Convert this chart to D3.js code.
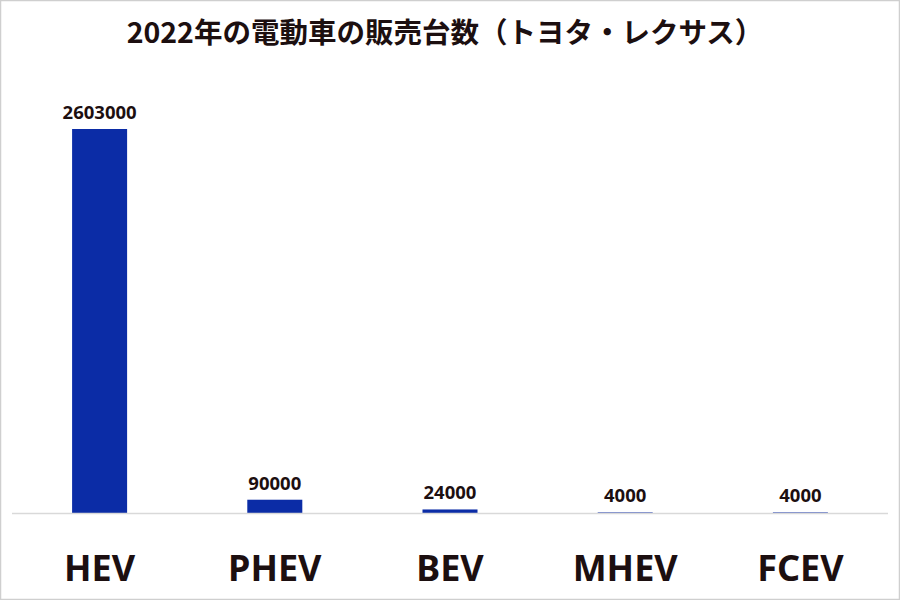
<!DOCTYPE html>
<html><head><meta charset="utf-8">
<script src="https://cdn.jsdelivr.net/npm/d3@7"></script>
<style>html,body{margin:0;padding:0;background:#fff;}svg{display:block;}</style>
</head><body>
<svg id="chart" width="900" height="600"></svg>
<script>
const title = "2022年の電動車の販売台数（トヨタ・レクサス）";
const categories = ["HEV", "PHEV", "BEV", "MHEV", "FCEV"];
const values = [2603000, 90000, 24000, 4000, 4000];

const svg = d3.select("#chart");
const W = 900, H = 600;
const textColor = "#1c0f10";

svg.append("rect").attr("x", 0.5).attr("y", 0.5).attr("width", W - 1).attr("height", H - 1)
  .attr("fill", "#fff").attr("stroke", "#cfcfcf").attr("stroke-width", 1.5);

const x = d3.scaleBand().domain(categories).range([12, 888]).paddingInner(0.686).paddingOuter(0.343);
const y = d3.scaleLinear().domain([0, d3.max(values)]).range([513, 129]);

svg.append("text").attr("x", 445).attr("y", 43).attr("text-anchor", "middle")
  .attr("font-family", "'Noto Sans CJK JP', sans-serif").attr("font-weight", "bold")
  .attr("font-size", 28.5).attr("fill", textColor).text(title);

const data = categories.map((c, i) => ({c, v: values[i]}));

svg.selectAll("rect.bar").data(data).join("rect").attr("class", "bar")
  .attr("x", d => x(d.c)).attr("width", x.bandwidth())
  .attr("y", d => y(d.v)).attr("height", d => y(0) - y(d.v))
  .attr("fill", "#0b2ca6");

svg.append("line").attr("x1", 12).attr("x2", 888).attr("y1", y(0) + 0.5).attr("y2", y(0) + 0.5)
  .attr("stroke", "#d9d9d9").attr("stroke-width", 1.5);

svg.selectAll("text.val").data(data).join("text").attr("class", "val")
  .attr("x", d => x(d.c) + x.bandwidth() / 2).attr("y", d => y(d.v) - 10)
  .attr("text-anchor", "middle").attr("font-family", "'Noto Sans', sans-serif")
  .attr("font-weight", "bold").attr("font-size", 18.5).attr("fill", textColor)
  .text(d => d.v);

const xAxis = svg.append("g").attr("transform", `translate(0,${y(0)})`)
  .call(d3.axisBottom(x).tickSize(0).tickPadding(0));
xAxis.select(".domain").remove();
xAxis.selectAll("text").attr("dy", null).attr("y", 68)
  .attr("font-family", "'Noto Sans', sans-serif").attr("font-weight", "bold")
  .attr("font-size", 36).attr("fill", textColor);
</script>
</body></html>
